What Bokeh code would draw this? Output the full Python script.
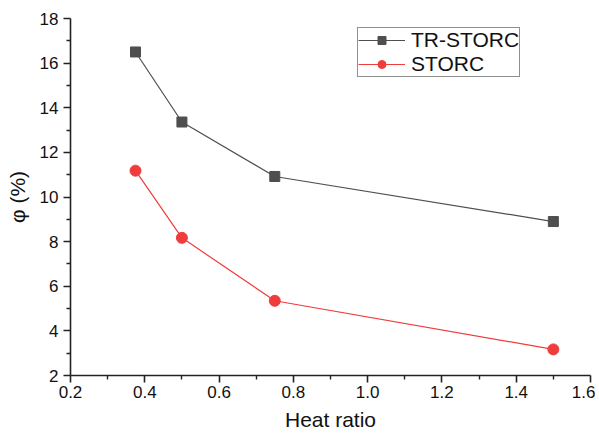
from bokeh.plotting import figure
from bokeh.models import Range1d, Legend, LegendItem, FixedTicker, PrintfTickFormatter
from bokeh.embed import file_html
from bokeh.resources import INLINE

heat_ratio = [0.375, 0.5, 0.75, 1.5]
tr_storc = [16.5, 13.36, 10.92, 8.9]
storc = [11.18, 8.17, 5.35, 3.17]
x_ticks = [0.2, 0.4, 0.6, 0.8, 1.0, 1.2, 1.4, 1.6]
x_minor = [0.3, 0.5, 0.7, 0.9, 1.1, 1.3, 1.5]
y_ticks = [2, 4, 6, 8, 10, 12, 14, 16, 18]
y_minor = [3, 5, 7, 9, 11, 13, 15, 17]

FONT = "Liberation Sans"
GRAY = "#4f4f4f"
RED = "#f03c3c"

p = figure(width=595, height=433, output_backend="svg", toolbar_location=None,
           x_range=Range1d(0.2, 1.6), y_range=Range1d(2, 18),
           min_border_left=70, min_border_right=5, min_border_top=18, min_border_bottom=47)
p.xgrid.visible = False
p.ygrid.visible = False
p.outline_line_color = None
p.background_fill_color = "white"

l1 = p.line(heat_ratio, tr_storc, line_color=GRAY, line_width=1.2)
s1 = p.scatter(heat_ratio, tr_storc, marker="square", size=10, fill_color=GRAY, line_color=GRAY)
l2 = p.line(heat_ratio, storc, line_color=RED, line_width=1.2)
s2 = p.scatter(heat_ratio, storc, marker="circle", size=11, fill_color=RED, line_color=RED)

for ax in (p.xaxis[0], p.yaxis[0]):
    ax.axis_line_width = 1.6
    ax.axis_line_color = "#222222"
    ax.major_tick_line_color = "#222222"
    ax.minor_tick_line_color = "#222222"
    ax.major_tick_line_width = 1.6
    ax.minor_tick_line_width = 1.4
    ax.major_tick_out = 7
    ax.major_tick_in = 0
    ax.minor_tick_out = 4
    ax.minor_tick_in = 0
    ax.major_label_text_font = FONT
    ax.major_label_text_font_size = "17px"
    ax.major_label_text_color = "#111111"
    ax.axis_label_text_font = FONT
    ax.axis_label_text_font_size = "21px"
    ax.axis_label_text_font_style = "normal"
    ax.axis_label_text_color = "#111111"

p.xaxis[0].ticker = FixedTicker(ticks=x_ticks, minor_ticks=x_minor)
p.xaxis[0].formatter = PrintfTickFormatter(format="%.1f")
p.yaxis[0].ticker = FixedTicker(ticks=y_ticks, minor_ticks=y_minor)
p.xaxis[0].axis_label = "Heat ratio"
p.yaxis[0].axis_label = "φ (%)"
p.xaxis[0].major_label_standoff = 3
p.xaxis[0].axis_label_standoff = 7
p.yaxis[0].major_label_standoff = 5
p.yaxis[0].axis_label_standoff = 8

legend = Legend(items=[LegendItem(label="TR-STORC", renderers=[l1, s1]),
                       LegendItem(label="STORC", renderers=[l2, s2])],
                location=(287, 298))
legend.label_text_font = FONT
legend.label_text_font_size = "21px"
legend.label_text_color = "#111111"
legend.border_line_color = "#222222"
legend.border_line_width = 1.2
legend.glyph_width = 47
legend.glyph_height = 20
legend.spacing = -2
legend.padding = 0
legend.margin = 0
legend.label_standoff = 6
legend.label_height = 20
legend.background_fill_alpha = 1.0
p.add_layout(legend, "center")

open("out.html", "w").write(file_html(p, INLINE))
